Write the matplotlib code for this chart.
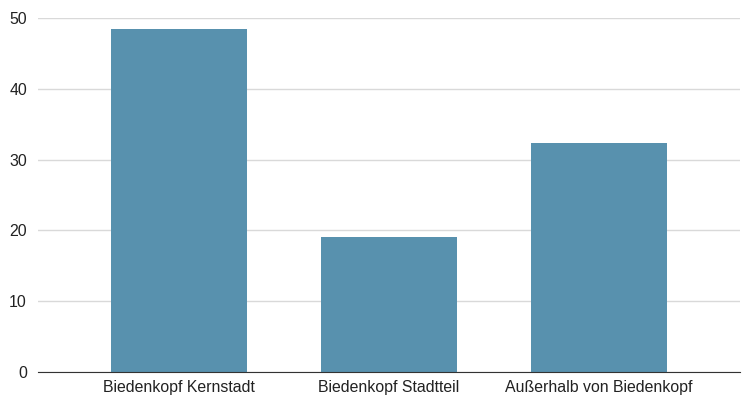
import matplotlib
matplotlib.use("Agg")
from matplotlib import pyplot as plt
import numpy as np

categories = ["Biedenkopf Kernstadt", "Biedenkopf Stadtteil", "Außerhalb von Biedenkopf"]
values = [48.4, 19.0, 32.3]
y_ticks = [0, 10, 20, 30, 40, 50]

plt.rcParams['font.family'] = ['Liberation Sans', 'DejaVu Sans']

fig = plt.figure(figsize=(7.47, 3.99), dpi=100)
axes = fig.add_axes([38 / 747, 27 / 399, 702 / 747, 354 / 399])

x = np.arange(len(categories))
axes.bar(x, values, width=0.645, color="#5891ae", zorder=3)

axes.set_xlim(-0.67, 2.67)
axes.set_ylim(0, 50)
axes.set_yticks(y_ticks)
axes.set_xticks(x)
axes.set_xticklabels(categories)
axes.tick_params(axis="both", length=0, labelsize=11.4, colors="#222222")
axes.tick_params(axis="y", pad=8)
axes.tick_params(axis="x", pad=6)
axes.grid(axis="y", color="#d9d9d9", linewidth=1, zorder=0)

for side in ["top", "right", "left"]:
    axes.spines[side].set_visible(False)
axes.spines["bottom"].set_color("#333333")
axes.spines["bottom"].set_zorder(4)

fig.savefig("out.png", dpi=100)
